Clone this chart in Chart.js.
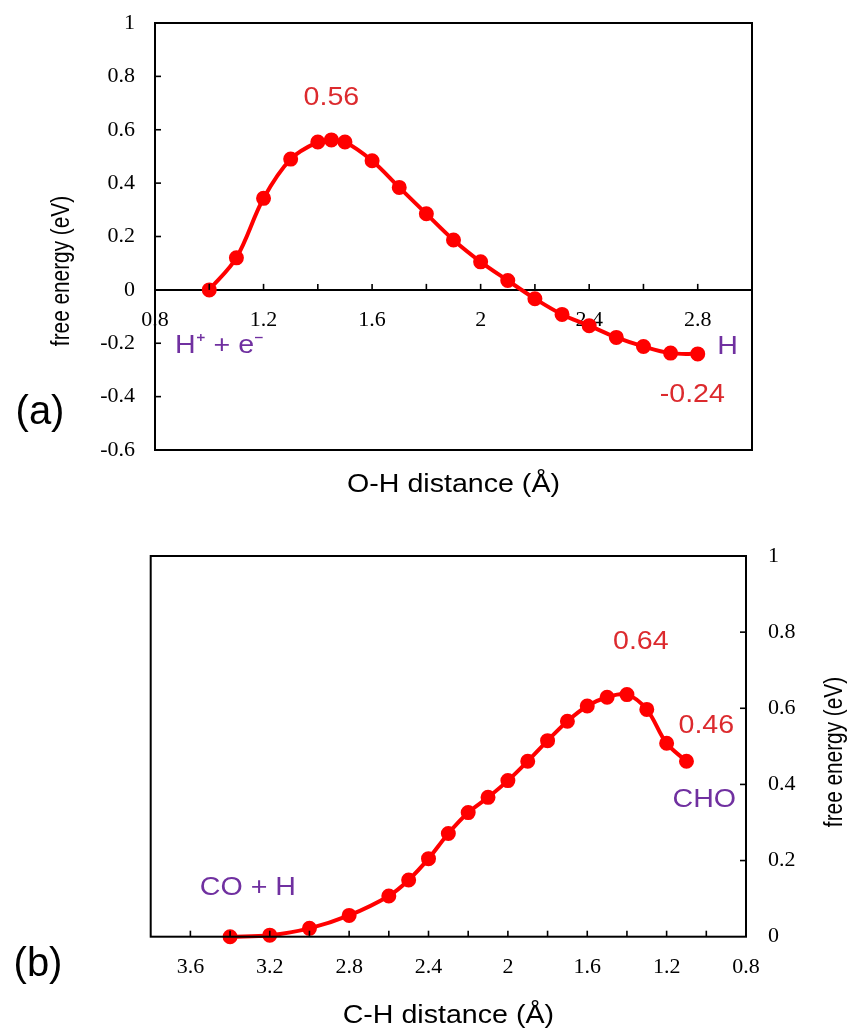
<!DOCTYPE html>
<html>
<head>
<meta charset="utf-8">
<script src="https://cdn.jsdelivr.net/npm/chart.js@4.4.1/dist/chart.umd.min.js"></script>
<style>
  body { margin: 0; background: #fff; }
  #wrap { position: relative; width: 856px; height: 1034px; }
  .box { position: absolute; left: 0; width: 856px; }
</style>
</head>
<body>
<div id="wrap">
  <div class="box" style="top:0;height:520px"><canvas id="chartA"></canvas></div>
  <div class="box" style="top:520px;height:514px"><canvas id="chartB"></canvas></div>
</div>
<script>
// (a) O-H distance vs free energy
const ohDistance = [1.0, 1.1, 1.2, 1.3, 1.4, 1.45, 1.5, 1.6, 1.7, 1.8, 1.9, 2.0, 2.1, 2.2, 2.3, 2.4, 2.5, 2.6, 2.7, 2.8];
const ohEnergy   = [0, 0.12, 0.343, 0.49, 0.554, 0.562, 0.554, 0.484, 0.384, 0.285, 0.187, 0.105, 0.035, -0.033, -0.092, -0.134, -0.178, -0.212, -0.237, -0.24];

// (b) C-H distance vs free energy
const chDistance = [3.4, 3.2, 3.0, 2.8, 2.6, 2.5, 2.4, 2.3, 2.2, 2.1, 2.0, 1.9, 1.8, 1.7, 1.6, 1.5, 1.4, 1.3, 1.2, 1.1];
const chEnergy   = [0, 0.004, 0.022, 0.056, 0.107, 0.149, 0.205, 0.271, 0.326, 0.366, 0.41, 0.461, 0.515, 0.566, 0.606, 0.629, 0.636, 0.597, 0.508, 0.461];

// axis ranges
const ohRange = [0.8, 3.0];
const chRange = [0.8, 3.8];
const energyRangeA = [-0.6, 1];
const energyRangeB = [0, 1];

const RED = '#ff0000';
const NOTE_RED = '#dc2a2e';
const PURPLE = '#7030a0';
const SANS = '"Liberation Sans", Arial, sans-serif';
const SERIF = '"Liberation Serif", "Times New Roman", serif';

// text placed on the plot (anchored in data units)
const notesA = [
  { text: '0.56', x: 1.45, y: 0.72, color: NOTE_RED },
  { text: 'H\u207A + e\u207B', x: 0.874, y: -0.208, color: PURPLE, align: 'left' },
  { text: 'H', x: 2.91, y: -0.212, color: PURPLE },
  { text: '-0.24', x: 2.78, y: -0.392, color: NOTE_RED }
];
const notesB = [
  { text: '0.64', x: 1.33, y: 0.774, color: NOTE_RED },
  { text: '0.46', x: 1.0, y: 0.553, color: NOTE_RED },
  { text: 'CHO', x: 1.01, y: 0.359, color: PURPLE },
  { text: 'CO + H', x: 3.31, y: 0.128, color: PURPLE }
];

const fmt = v => String(Math.round(v * 10) / 10);
const everyOther = base => v => (Math.round((v - base) * 10) % 4 === 0 ? fmt(v) : '');

// the source figure is a bit wider than tall, so horizontal text is stretched
function stretchText(ctx, text, x, y, sx) {
  ctx.save();
  ctx.translate(x, y);
  ctx.scale(sx, 1);
  ctx.fillText(text, 0, 0);
  ctx.restore();
}

const framePlugin = {
  id: 'frame',
  afterDraw(chart, args, o) {
    const { ctx, chartArea: a, scales: { x, y } } = chart;
    ctx.save();
    ctx.strokeStyle = '#000';
    ctx.lineWidth = 2;
    ctx.strokeRect(a.left, a.top, a.right - a.left, a.bottom - a.top);

    // inward tick marks
    ctx.lineWidth = 1.6;
    const xBase = o.xAxisAt !== undefined ? y.getPixelForValue(o.xAxisAt) : a.bottom;
    x.ticks.forEach(t => {
      const px = x.getPixelForValue(t.value);
      if (px <= a.left + 1 || px >= a.right - 1) return;
      ctx.beginPath(); ctx.moveTo(px, xBase); ctx.lineTo(px, xBase - 6); ctx.stroke();
    });
    const yEdge = o.ySide === 'right' ? a.right : a.left;
    const dir = o.ySide === 'right' ? -1 : 1;
    y.ticks.forEach(t => {
      const py = y.getPixelForValue(t.value);
      if (py <= a.top + 1 || py >= a.bottom - 1) return;
      ctx.beginPath(); ctx.moveTo(yEdge, py); ctx.lineTo(yEdge + dir * 6, py); ctx.stroke();
    });

    // axis titles and panel letter
    ctx.fillStyle = '#000';
    ctx.textBaseline = 'middle';
    ctx.textAlign = 'center';
    ctx.font = '26px ' + SANS;
    stretchText(ctx, o.xTitle, (a.left + a.right) / 2, a.bottom + o.xTitleGap, 1.1);
    ctx.save();
    ctx.translate(o.yTitleX, o.yTitleY);
    ctx.rotate(-Math.PI / 2);
    ctx.scale(0.8, 1);
    ctx.font = '26px ' + SANS;
    ctx.fillText('free energy (eV)', 0, 0);
    ctx.restore();
    ctx.font = '40px ' + SANS;
    ctx.fillText(o.panel, o.panelX, o.panelY);

    // notes
    ctx.font = '26px ' + SANS;
    o.notes.forEach(n => {
      ctx.fillStyle = n.color;
      ctx.textAlign = n.align || 'center';
      stretchText(ctx, n.text, x.getPixelForValue(n.x), y.getPixelForValue(n.y), 1.1);
    });
    ctx.restore();
  }
};

const tickFont = { family: SERIF, size: 22 };

function series(xs, ys) {
  return {
    data: xs.map((v, i) => ({ x: v, y: ys[i] })),
    borderColor: RED,
    backgroundColor: RED,
    borderWidth: 4,
    pointRadius: 5.5,
    pointHoverRadius: 5.5,
    tension: 0.35,
    clip: false
  };
}

new Chart(document.getElementById('chartA'), {
  type: 'line',
  data: { datasets: [series(ohDistance, ohEnergy)] },
  plugins: [framePlugin],
  options: {
    responsive: true,
    maintainAspectRatio: false,
    animation: false,
    layout: { padding: { left: 0, top: 23, right: 104, bottom: 70 } },
    plugins: {
      legend: { display: false },
      tooltip: { enabled: false },
      frame: {
        xAxisAt: 0, ySide: 'left',
        xTitle: 'O-H distance (\u00C5)', xTitleGap: 35,
        yTitleX: 62, yTitleY: 271,
        panel: '(a)', panelX: 40, panelY: 413,
        notes: notesA
      }
    },
    scales: {
      x: {
        type: 'linear', min: ohRange[0], max: ohRange[1],
        position: { y: 0 },
        grid: { display: false, drawTicks: false },
        border: { display: true, color: '#000', width: 2 },
        ticks: { stepSize: 0.2, autoSkip: false, maxRotation: 0, minRotation: 0, padding: 17,
                 color: '#000', font: tickFont, callback: everyOther(ohRange[0]) }
      },
      y: {
        min: energyRangeA[0], max: energyRangeA[1],
        grid: { display: false, drawTicks: false },
        border: { display: false },
        ticks: { stepSize: 0.2, padding: 20, color: '#000', font: tickFont, callback: fmt },
        afterFit: s => { s.width = 155; s.paddingTop = 0; s.paddingBottom = 0; }
      }
    }
  }
});

new Chart(document.getElementById('chartB'), {
  type: 'line',
  data: { datasets: [series(chDistance, chEnergy)] },
  plugins: [framePlugin],
  options: {
    responsive: true,
    maintainAspectRatio: false,
    animation: false,
    layout: { padding: { left: 150.7, top: 36, right: 0, bottom: 0 } },
    plugins: {
      legend: { display: false },
      tooltip: { enabled: false },
      frame: {
        ySide: 'right',
        xTitle: 'C-H distance (\u00C5)', xTitleGap: 79,
        yTitleX: 835, yTitleY: 232,
        panel: '(b)', panelX: 38, panelY: 445,
        notes: notesB
      }
    },
    scales: {
      x: {
        type: 'linear', min: chRange[0], max: chRange[1], reverse: true,
        position: 'bottom',
        grid: { display: false, drawTicks: false },
        border: { display: false },
        ticks: { stepSize: 0.2, autoSkip: false, maxRotation: 0, minRotation: 0, padding: 17,
                 color: '#000', font: tickFont, callback: everyOther(chRange[0]) },
        afterFit: s => { s.height = 97.3; }
      },
      y: {
        position: 'right',
        min: energyRangeB[0], max: energyRangeB[1],
        grid: { display: false, drawTicks: false },
        border: { display: false },
        ticks: { stepSize: 0.2, padding: 22, color: '#000', font: tickFont, callback: fmt },
        afterFit: s => { s.width = 110; s.paddingTop = 0; s.paddingBottom = 0; }
      }
    }
  }
});
</script>
</body>
</html>
